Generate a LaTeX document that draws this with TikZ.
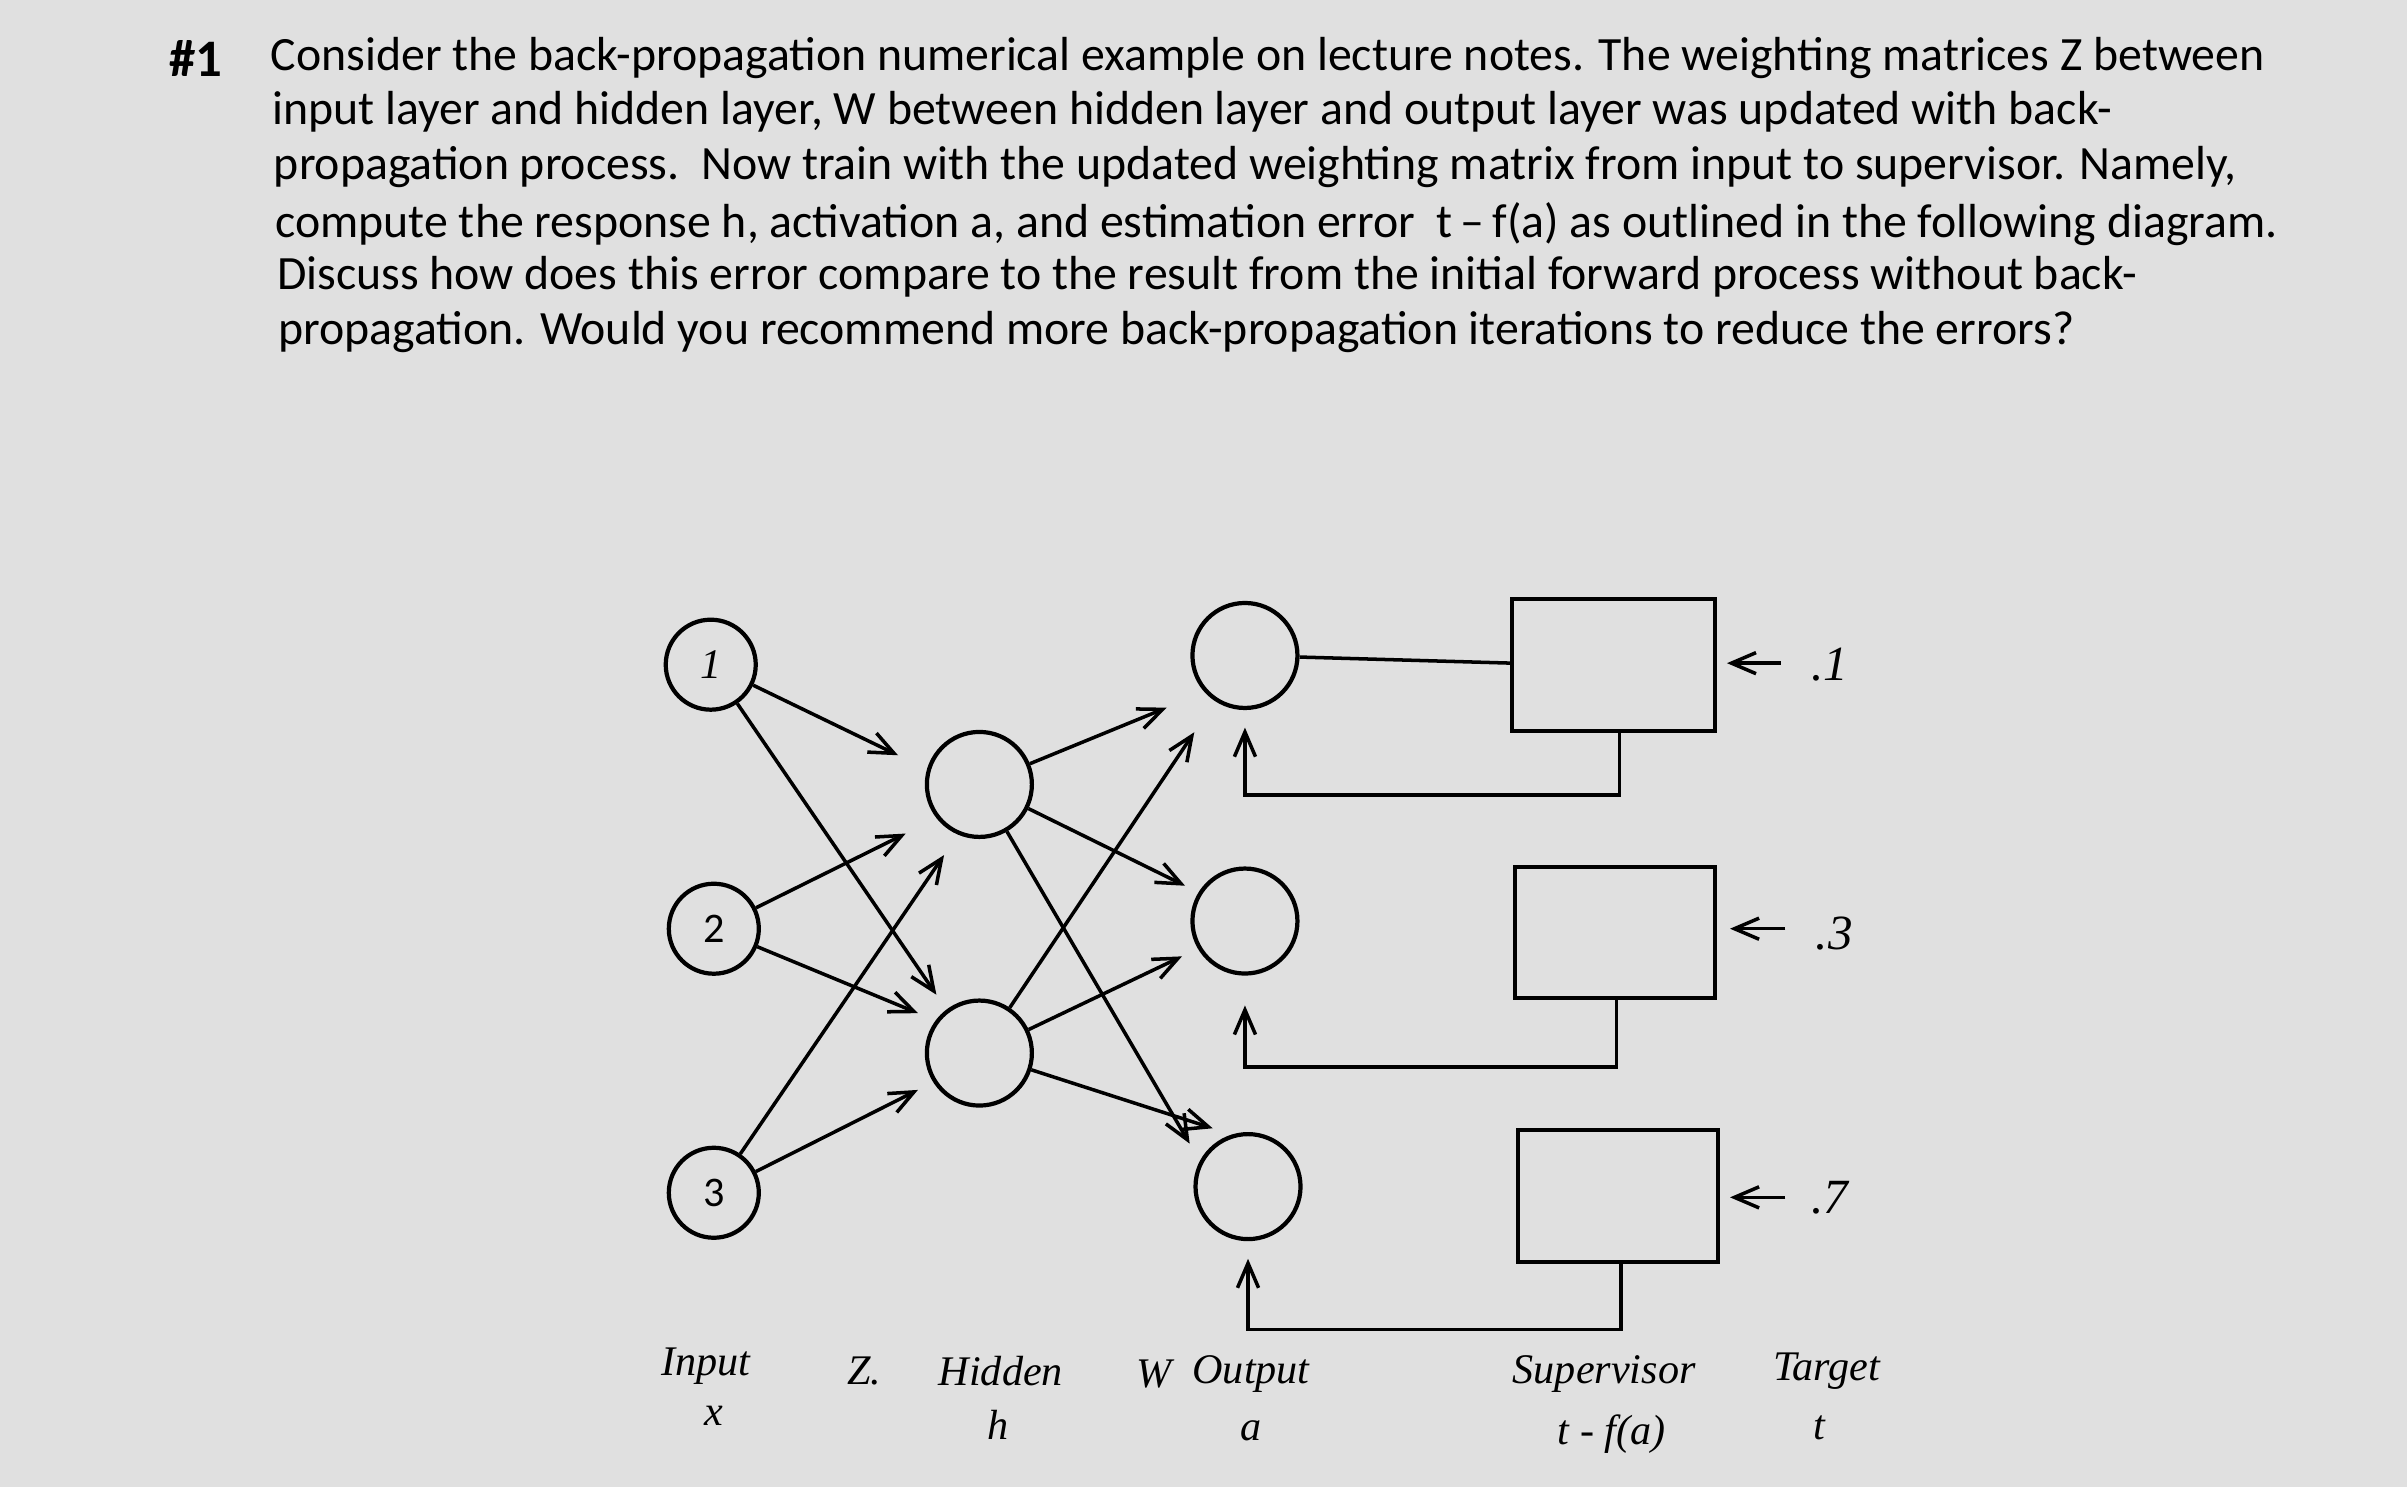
\documentclass[tikz,border=0pt]{standalone}
\usepackage{fontspec}
\setmainfont{Carlito}
\newfontfamily\hand{Liberation Serif}
\usetikzlibrary{arrows.meta}
\definecolor{bg}{RGB}{224,224,224}
\tikzset{
 neuron/.style={circle,draw,line width=1.2pt,minimum size=#1},
 ln/.style={line width=1pt},
 ar/.style={line width=1pt,-{Straight Barb[length=7pt,width=6pt]}},
 box/.style={draw,line width=1.2pt},
 txt/.style={anchor=west,inner sep=0pt,font=\fontsize{13.6}{16}\selectfont},
 hw/.style={font=\hand\itshape\fontsize{12}{14}\selectfont,inner sep=0pt},
}
\begin{document}
\begin{tikzpicture}[x=0.01535cm,y=-0.01535cm]
\fill[bg] (0,0) rectangle (1568,969);
\useasboundingbox (0,0) rectangle (1568,969);
\node[txt,font=\bfseries\fontsize{15}{17}\selectfont] (num) at (110,38) {\#1};
\node[txt] (l1) at (176,38) {Consider the back-propagation numerical example on lecture notes. The weighting matrices Z between};
\node[txt] (l2) at (177,73) {input layer and hidden layer, W between hidden layer and output layer was updated with back-};
\node[txt] (l3) at (178,109) {propagation process.\ \ Now train with the updated weighting matrix from input to supervisor. Namely,};
\node[txt] (l4) at (179,146) {compute the response h, activation a, and estimation error\ \ t\,--\,f(a) as outlined in the following diagram.};
\node[txt] (l5) at (180,180) {Discuss how does this error compare to the result from the initial forward process without back-};
\node[txt] (l6) at (181,216) {propagation. Would you recommend more back-propagation iterations to reduce the errors?};
% neurons
\node[neuron=0.9cm,font=\hand\itshape\large] (i1) at (463,433) {1};
\node[neuron=0.9cm,font=\large] (i2) at (465,605) {2};
\node[neuron=0.9cm,font=\large] (i3) at (465,777) {3};
\node[neuron=1.05cm] (h1) at (638,511) {};
\node[neuron=1.05cm] (h2) at (638,686) {};
\node[neuron=1.05cm] (o1) at (811,427) {};
\node[neuron=1.05cm] (o2) at (811,600) {};
\node[neuron=1.05cm] (o3) at (813,773) {};
% boxes
\draw[box] (985,390) rectangle (1117,476);
\draw[box] (987,565) rectangle (1117,650);
\draw[box] (989,736) rectangle (1119,822);
\coordinate (b1) at (985,432);
\draw[ln] (o1) -- (b1);
\coordinate (f1a) at (1055,476); \coordinate (f1b) at (1055,518); \coordinate (f1c) at (811,518); \coordinate (f1d) at (811,474);
\draw[ar] (f1a) -- (f1b) -- (f1c) -- (f1d);
\coordinate (f2a) at (1053,650); \coordinate (f2b) at (1053,695); \coordinate (f2c) at (811,695); \coordinate (f2d) at (811,655);
\draw[ar] (f2a) -- (f2b) -- (f2c) -- (f2d);
\coordinate (f3a) at (1056,822); \coordinate (f3b) at (1056,866); \coordinate (f3c) at (813,866); \coordinate (f3d) at (813,820);
\draw[ar] (f3a) -- (f3b) -- (f3c) -- (f3d);
% target arrows
\node[hw,font=\hand\itshape\fontsize{14}{16}\selectfont] (t1) at (1192,433) {.1};
\node[hw,font=\hand\itshape\fontsize{14}{16}\selectfont] (t2) at (1195,608) {.3};
\node[hw,font=\hand\itshape\fontsize{14}{16}\selectfont] (t3) at (1192,780) {.7};
\coordinate (t1s) at (1160,432); \coordinate (t1e) at (1125,432);
\coordinate (t2s) at (1163,605); \coordinate (t2e) at (1127,605);
\coordinate (t3s) at (1163,780); \coordinate (t3e) at (1127,780);
\draw[ar] (t1s) -- (t1e); \draw[ar] (t2s) -- (t2e); \draw[ar] (t3s) -- (t3e);
% input -> hidden
\coordinate (a1) at (585,492); \coordinate (a2) at (610,648);
\coordinate (a3) at (590,543); \coordinate (a4) at (598,660);
\coordinate (a5) at (615,557); \coordinate (a6) at (598,710);
\draw[ar] (i1) -- (a1); \draw[ar] (i1) -- (a2);
\draw[ar] (i2) -- (a3); \draw[ar] (i2) -- (a4);
\draw[ar] (i3) -- (a5); \draw[ar] (i3) -- (a6);
% hidden -> output
\coordinate (c1) at (760,461); \coordinate (c2) at (772,577); \coordinate (c3) at (775,745);
\coordinate (c4) at (778,477); \coordinate (c5) at (770,623); \coordinate (c6) at (790,735);
\draw[ar] (h1) -- (c1); \draw[ar] (h1) -- (c2); \draw[ar] (h1) -- (c3);
\draw[ar] (h2) -- (c4); \draw[ar] (h2) -- (c5); \draw[ar] (h2) -- (c6);
% labels
\node[hw] (L1) at (460,890) {Input};
\node[hw] (L2) at (465,922) {x};
\node[hw] (L3) at (563,893) {Z.};
\node[hw] (L4) at (652,893) {Hidden};
\node[hw] (L5) at (650,928) {h};
\node[hw] (L6) at (752,895) {W};
\node[hw] (L7) at (815,895) {Output};
\node[hw] (L8) at (815,932) {a};
\node[hw] (L9) at (1045,895) {Supervisor};
\node[hw] (L10) at (1050,934) {t - f(a)};
\node[hw] (L11) at (1190,893) {Target};
\node[hw] (L12) at (1185,930) {t};
\end{tikzpicture}
\end{document}
